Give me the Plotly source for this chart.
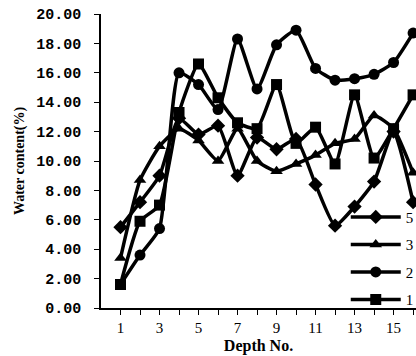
import plotly.graph_objects as go

depth = list(range(1, 17))
s5 = [5.5, 7.2, 9.0, 12.9, 11.8, 12.4, 9.0, 11.6, 10.8, 11.5, 8.4, 5.6, 6.9, 8.6, 12.0, 7.2]
s3 = [3.4, 8.7, 11.0, 12.2, 11.4, 10.0, 12.2, 10.0, 9.3, 9.8, 10.4, 11.2, 11.5, 13.1, 12.2, 9.2]
s2 = [1.6, 3.6, 5.4, 16.0, 15.2, 13.5, 18.3, 14.9, 17.9, 18.9, 16.3, 15.5, 15.6, 15.9, 16.7, 18.7]
s1 = [1.6, 5.9, 7.0, 13.3, 16.6, 14.3, 12.6, 12.2, 15.2, 11.2, 12.3, 9.8, 14.5, 10.2, 12.2, 14.5]
names = ["5", "3", "2", "1"]
symbols = ["diamond", "triangle-up", "circle", "square"]
xtick_vals = depth
xtick_text = [str(d) if d % 2 == 1 else "" for d in depth]
ytick_vals = [0, 2, 4, 6, 8, 10, 12, 14, 16, 18, 20]

fig = go.Figure()
for i, (name, vals, sym) in enumerate(zip(names, [s5, s3, s2, s1], symbols)):
    fig.add_trace(go.Scatter(
        x=depth, y=vals, name=name, mode="lines+markers",
        legendgroup=name,
        line=dict(color="black", width=3.5, shape="spline", smoothing=0.5),
        marker=dict(symbol=sym, size=11, color="black"),
    ))

serif = "Liberation Serif"
fig.update_layout(
    width=416, height=356,
    margin=dict(l=101, r=0, t=14, b=48, autoexpand=False),
    paper_bgcolor="white", plot_bgcolor="white",
    showlegend=True,
    legend=dict(x=0.777, y=0.365, xanchor="left", yanchor="top",
                bgcolor="rgba(0,0,0,0)", tracegroupgap=5,
                font=dict(family=serif, size=15, color="black"),
                itemwidth=50),
    font=dict(family=serif, color="black"),
)
fig.update_xaxes(
    range=[0, 16.15], tickvals=xtick_vals, ticktext=xtick_text,
    showline=True, linecolor="black", linewidth=1.5, mirror=False,
    ticks="outside", ticklen=5, tickcolor="black", tickwidth=1,
    showgrid=False, zeroline=False,
    tickfont=dict(family=serif, size=15, color="black"),
    title=dict(text="<b>Depth No.</b>", font=dict(family=serif, size=16, color="black"), standoff=5),
)
fig.update_yaxes(
    range=[0, 20], tickvals=ytick_vals, tickformat=".2f",
    showline=True, linecolor="black", linewidth=1.5,
    ticks="outside", ticklen=5, tickcolor="black", tickwidth=1,
    showgrid=False, zeroline=False,
    tickfont=dict(family="Liberation Mono", size=15, color="black", weight="bold"),
    ticklabelstandoff=10,
    title=dict(text="<b>Water content(%)</b>", font=dict(family=serif, size=14, color="black"), standoff=8),
)
fig.write_html("out.html")
